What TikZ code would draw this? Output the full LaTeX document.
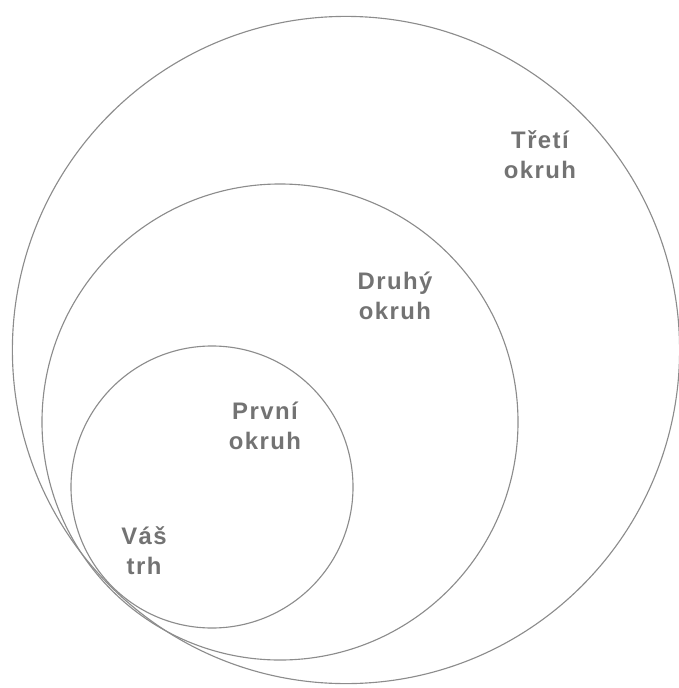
\documentclass[tikz,border=0pt]{standalone}
\usepackage{fontspec}
\setmainfont{Liberation Sans}
\newfontfamily\ringfont[LetterSpace=6]{Liberation Sans}
\begin{document}
\begin{tikzpicture}[x=0.25mm, y=-0.25mm,
  ring/.style={draw=black!45, line width=0.8pt},
  lbl/.style={text=black!55, font=\ringfont\bfseries\fontsize{17}{21.5}\selectfont, align=center}]
\useasboundingbox (0,0) rectangle (679,688);
% rings
\draw[ring] (346,350) circle (83.4mm);
\draw[ring] (280,422) circle (59.5mm);
\draw[ring] (212,487) circle (35.25mm);
% labels
\node[lbl] (treti) at (540,155) {Třetí\\okruh};
\node[lbl] (druhy) at (395,296) {Druhý\\okruh};
\node[lbl] (prvni) at (265,426) {První\\okruh};
\node[lbl] (trh) at (144,551) {Váš\\trh};
\end{tikzpicture}
\end{document}
